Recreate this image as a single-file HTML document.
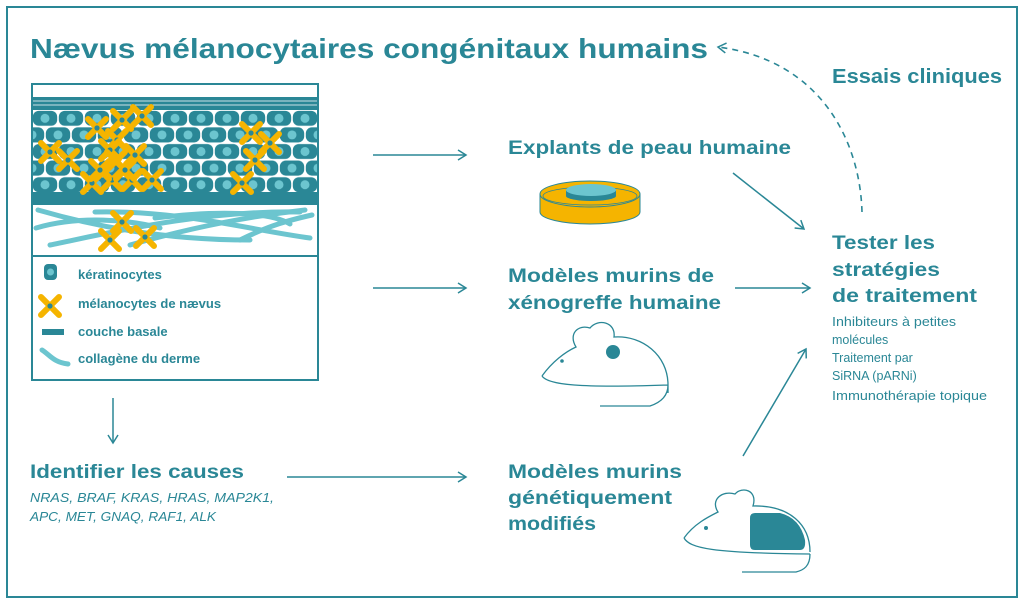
<!DOCTYPE html>
<html><head><meta charset="utf-8"><style>
html,body{margin:0;padding:0;background:#fff}
svg{display:block}
text{font-family:"Liberation Sans",sans-serif;fill:#2a8796}
.b{font-weight:bold}
</style></head><body>
<svg width="1024" height="604" viewBox="0 0 1024 604" xmlns="http://www.w3.org/2000/svg">
<defs>
<pattern id="cells" x="32" y="110" width="26" height="16.6" patternUnits="userSpaceOnUse">
<rect width="26" height="16.6" fill="#fff"/>
<rect x="0.8" y="0.8" width="24.4" height="15" rx="6" fill="#2a8796"/>
<circle cx="13" cy="8.3" r="4.5" fill="#6cc5cf"/>
</pattern>
<pattern id="cells2" x="45" y="126.6" width="26" height="33.2" patternUnits="userSpaceOnUse">
<rect width="26" height="16.6" fill="#fff"/>
<rect x="0.8" y="0.8" width="24.4" height="15" rx="6" fill="#2a8796"/>
<circle cx="13" cy="8.3" r="4.5" fill="#6cc5cf"/>
</pattern>
<g id="mel">
<path d="M-9,-9 L9,9 M9,-9 L-9,9" stroke="#f5b400" stroke-width="6" stroke-linecap="round"/>
<circle r="2.6" fill="#2a8796"/>
</g>
<marker id="ah" markerWidth="12" markerHeight="12" refX="10" refY="6" orient="auto" markerUnits="userSpaceOnUse">
<path d="M2,1 L10,6 L2,11" fill="none" stroke="#2a8796" stroke-width="1.5"/>
</marker>
</defs>
<rect x="7" y="7" width="1010" height="590" fill="none" stroke="#2a8796" stroke-width="2"/>

<text class="b" x="30" y="58" font-size="28" textLength="678" lengthAdjust="spacingAndGlyphs">Nævus mélanocytaires congénitaux humains</text>
<text class="b" x="832" y="83" font-size="20" textLength="170" lengthAdjust="spacingAndGlyphs">Essais cliniques</text>
<path d="M862,212 C860,140 820,60 718,47" fill="none" stroke="#2a8796" stroke-width="1.6" stroke-dasharray="6,5" marker-end="url(#ah)"/>

<!-- skin box -->
<rect x="32" y="84" width="286" height="296" fill="#fff" stroke="#2a8796" stroke-width="2"/>
<rect x="33" y="97" width="284" height="13" fill="#2a8796"/>
<path d="M33,101 H317 M33,105 H317" stroke="#fff" stroke-width="0.8"/>
<rect x="33" y="110" width="284" height="83" fill="url(#cells)"/>
<rect x="33" y="126.6" width="284" height="16.6" fill="url(#cells2)"/>
<rect x="33" y="159.8" width="284" height="16.6" fill="url(#cells2)"/>
<rect x="33" y="192" width="284" height="13" fill="#2a8796"/>
<g fill="none" stroke="#6cc5cf" stroke-width="5" stroke-linecap="round">
<path d="M38,210 C90,225 160,240 250,240"/>
<path d="M36,228 C80,215 130,220 160,228"/>
<path d="M50,245 C100,235 200,210 300,212"/>
<path d="M95,212 C180,210 250,230 310,238"/>
<path d="M155,218 C220,210 270,212 290,224"/>
<path d="M130,245 C200,225 260,215 305,210"/>
<path d="M240,240 C270,225 290,220 312,215"/>
</g>
<use href="#mel" x="97" y="128"/><use href="#mel" x="122" y="120"/><use href="#mel" x="142" y="116"/>
<use href="#mel" x="117" y="140"/><use href="#mel" x="110" y="150"/><use href="#mel" x="135" y="155"/>
<use href="#mel" x="116" y="161"/><use href="#mel" x="50" y="152"/><use href="#mel" x="68" y="160"/>
<use href="#mel" x="92" y="183"/><use href="#mel" x="112" y="180"/><use href="#mel" x="132" y="180"/><use href="#mel" x="152" y="180"/>
<use href="#mel" x="100" y="170"/><use href="#mel" x="125" y="170"/>
<use href="#mel" x="251" y="133"/><use href="#mel" x="270" y="143"/><use href="#mel" x="255" y="160"/><use href="#mel" x="242" y="183"/>
<use href="#mel" x="122" y="222"/><use href="#mel" x="110" y="240"/><use href="#mel" x="145" y="237"/>
<line x1="32" y1="256" x2="318" y2="256" stroke="#2a8796" stroke-width="2"/>
<!-- legend -->
<rect x="44" y="264" width="13" height="16" rx="4" fill="#2a8796"/><circle cx="50.5" cy="272" r="3.5" fill="#6cc5cf"/>
<use href="#mel" x="50" y="306"/>
<rect x="42" y="329" width="22" height="6" fill="#2a8796"/>
<path d="M42,350 C50,355 53,362 68,364" fill="none" stroke="#6cc5cf" stroke-width="5" stroke-linecap="round"/>
<text class="b" x="78" y="279" font-size="13">kératinocytes</text>
<text class="b" x="78" y="308" font-size="13">mélanocytes de nævus</text>
<text class="b" x="78" y="336" font-size="13">couche basale</text>
<text class="b" x="78" y="363" font-size="13">collagène du derme</text>

<!-- arrows -->
<g stroke="#2a8796" stroke-width="1.5" marker-end="url(#ah)">
<line x1="373" y1="155" x2="466" y2="155"/>
<line x1="373" y1="288" x2="466" y2="288"/>
<line x1="287" y1="477" x2="466" y2="477"/>
<line x1="113" y1="398" x2="113" y2="443"/>
<line x1="733" y1="173" x2="804" y2="229"/>
<line x1="735" y1="288" x2="810" y2="288"/>
<line x1="743" y1="456" x2="806" y2="349"/>
</g>

<text class="b" x="508" y="154" font-size="19" textLength="283" lengthAdjust="spacingAndGlyphs">Explants de peau humaine</text>
<text class="b" x="508" y="282" font-size="19" textLength="206" lengthAdjust="spacingAndGlyphs">Modèles murins de</text>
<text class="b" x="508" y="309" font-size="19" textLength="213" lengthAdjust="spacingAndGlyphs">xénogreffe humaine</text>
<text class="b" x="508" y="478" font-size="19" textLength="174" lengthAdjust="spacingAndGlyphs">Modèles murins</text>
<text class="b" x="508" y="504" font-size="19" textLength="164" lengthAdjust="spacingAndGlyphs">génétiquement</text>
<text class="b" x="508" y="530" font-size="19" textLength="88" lengthAdjust="spacingAndGlyphs">modifiés</text>

<text class="b" x="30" y="478" font-size="19" textLength="214" lengthAdjust="spacingAndGlyphs">Identifier les causes</text>
<text x="30" y="502" font-size="13" font-style="italic" textLength="244" lengthAdjust="spacingAndGlyphs">NRAS, BRAF, KRAS, HRAS, MAP2K1,</text>
<text x="30" y="521" font-size="13" font-style="italic" textLength="186" lengthAdjust="spacingAndGlyphs">APC, MET, GNAQ, RAF1, ALK</text>

<text class="b" x="832" y="249" font-size="19" textLength="103" lengthAdjust="spacingAndGlyphs">Tester les</text>
<text class="b" x="832" y="276" font-size="19" textLength="108" lengthAdjust="spacingAndGlyphs">stratégies</text>
<text class="b" x="832" y="302" font-size="19" textLength="145" lengthAdjust="spacingAndGlyphs">de traitement</text>
<g font-size="12.5">
<text x="832" y="326" textLength="124" lengthAdjust="spacingAndGlyphs">Inhibiteurs à petites</text>
<text x="832" y="344">molécules</text>
<text x="832" y="362">Traitement par</text>
<text x="832" y="380">SiRNA (pARNi)</text>
<text x="832" y="400" textLength="155" lengthAdjust="spacingAndGlyphs">Immunothérapie topique</text>
</g>

<!-- petri dish -->
<path d="M540,194 L540,212 A50,12 0 0 0 640,212 L640,194 Z" fill="#f5b400" stroke="#2a8796" stroke-width="1"/>
<ellipse cx="590" cy="194" rx="50" ry="13" fill="#f5b400" stroke="#2a8796" stroke-width="1"/>
<ellipse cx="590" cy="196" rx="47" ry="9" fill="none" stroke="#2a8796" stroke-width="0.8"/>
<path d="M566,190 L566,196 A25,5 0 0 0 616,196 L616,190 Z" fill="#2a8796"/>
<ellipse cx="591" cy="190" rx="25" ry="6" fill="#6cc5cf"/>

<!-- mouse 1 -->
<path d="M542,376 C552,362 565,352 576,347 C568,334 578,324 590,328 C598,318 616,322 614,337 C642,335 668,355 668,385 L668,393 M542,376 C548,385 580,388 668,385 M668,385 C668,395 662,402 650,406 L600,406" fill="none" stroke="#2a8796" stroke-width="1.3"/>
<circle cx="613" cy="352" r="7" fill="#2a8796"/>
<circle cx="562" cy="361" r="1.8" fill="#2a8796"/>

<!-- mouse 2 -->
<path d="M684,538 C694,524 708,517 718,512 C710,500 722,490 735,494 C742,486 758,490 753,506 C790,505 810,525 810,552 M684,538 C690,548 710,553 810,554 M810,554 C810,566 804,570 796,572 L742,572" fill="none" stroke="#2a8796" stroke-width="1.3"/>
<path d="M750,518 Q750,513 755,513 L780,513 Q800,518 805,540 Q806,550 800,550 L755,550 Q750,550 750,545 Z" fill="#2a8796"/>
<circle cx="706" cy="528" r="2" fill="#2a8796"/>
</svg>
</body></html>
